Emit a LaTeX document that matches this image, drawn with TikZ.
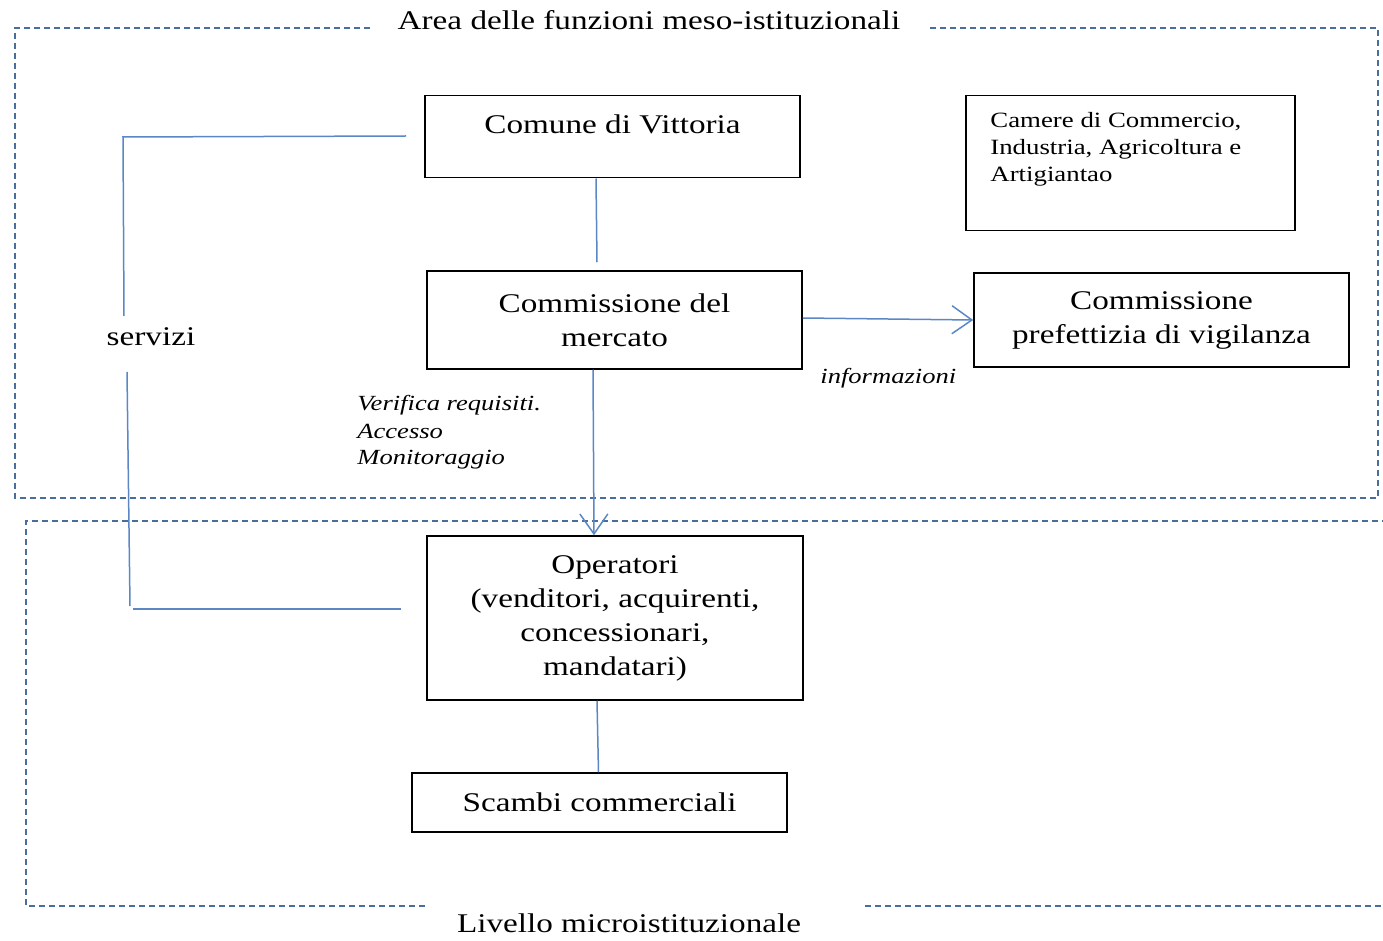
\documentclass[tikz,border=0pt]{standalone}
\usepackage{fontspec}
\setmainfont{Liberation Serif}[FakeStretch=1.23]
\usetikzlibrary{arrows.meta,calc}
\definecolor{conn}{HTML}{5B87C5}
\definecolor{zone}{HTML}{4A6E9C}
\begin{document}
\begin{tikzpicture}[x=0.5pt,y=-0.5pt,
  box/.style={draw=black,line width=0.75pt,inner sep=0pt,align=center},
  lbl/.style={font=\fontsize{13.5}{17}\selectfont},
  small/.style={font=\fontsize{10.9}{13.5}\selectfont,align=left,inner sep=0pt},
  note/.style={font=\fontsize{10.8}{13.5}\selectfont\itshape,align=left,inner sep=0pt},
  link/.style={draw=conn,line width=0.75pt},
  arr/.style={link,-{Straight Barb[length=10pt,width=14pt,line width=0.75pt]}},
  zoneline/.style={draw=zone,line width=0.6pt,dash pattern=on 3pt off 2pt}]
\useasboundingbox (0,0) rectangle (1383,941);
\clip (0,0) rectangle (1383,941);

% zones
\draw[zoneline] (370,28) -- (15,28) -- (15,498) -- (1378,498) -- (1378,28) -- (930,28);
\draw[zoneline] (425,906) -- (26,906) -- (26,521) -- (1400,521);
\draw[zoneline] (865,906) -- (1400,906);
\node[lbl,anchor=base,inner sep=0pt] (title) at (649,30) {Area delle funzioni meso-istituzionali};
\node[lbl,anchor=base,inner sep=0pt] (livello) at (629,932) {Livello microistituzionale};

% boxes
\node[box,lbl,minimum width=187.5pt,text height=19pt,text depth=22pt,anchor=north] (comune) at (612.5,95) {Comune di Vittoria};
\node[box,minimum width=164.5pt,minimum height=67.5pt,anchor=north west] (camere) at (965,95) {};
\node[small,anchor=base west] (cameretxt) at (990,182) {Camere di Commercio,\\Industria, Agricoltura e\\Artigiantao};
\node[box,lbl,minimum width=187.5pt,minimum height=49pt] (comm) at (614.5,320) {Commissione del\\mercato};
\node[box,lbl,minimum width=187.5pt,minimum height=47pt] (pref) at (1161.5,320) {Commissione\\prefettizia di vigilanza};
\node[box,lbl,minimum width=188pt,minimum height=82pt] (oper) at (615,618) {Operatori\\(venditori, acquirenti,\\concessionari,\\mandatari)};
\node[box,lbl,minimum width=187.5pt,minimum height=29.5pt] (scambi) at (599.5,802.5) {Scambi commerciali};

% labels
\node[lbl,inner sep=0pt,anchor=base] (serv) at (151,346) {servizi};
\node[note,anchor=base west] (verifica) at (357,465) {Verifica requisiti.\\Accesso\\Monitoraggio};
\node[note,anchor=base west] (info) at (820,384) {informazioni};

% connectors
\draw[link] ([xshift=-8.25pt]comune.south) -- ([xshift=-8.75pt,yshift=4pt]comm.north);
\draw[arr] ([xshift=-10.75pt]comm.south) -- ([xshift=-10.5pt]oper.north);
\draw[arr] ([yshift=1pt]comm.east) -- (pref.west);
\draw[link] ([xshift=-9pt]oper.south) -- ([xshift=-0.5pt]scambi.north);

\coordinate (s1) at (406,136);
\coordinate (sc1) at (123,137);
\coordinate (s3) at (124,316);
\coordinate (s4) at (127,372);
\coordinate (sc2) at (130,606);
\coordinate (s2) at (401,609);
\draw[link] (s1) -- (sc1) -- (s3);
\draw[link] (s4) -- (sc2);
\draw[link] (133,609) -- (s2);
\end{tikzpicture}
\end{document}
